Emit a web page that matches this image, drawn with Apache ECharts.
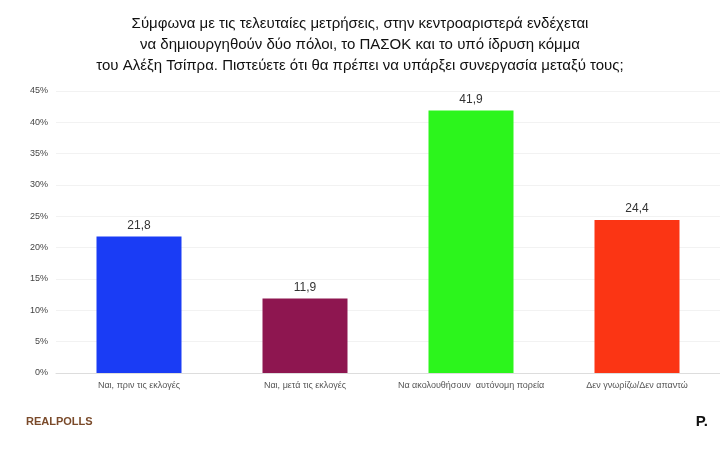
<!DOCTYPE html>
<html>
<head>
<meta charset="utf-8">
<script src="https://cdn.jsdelivr.net/npm/echarts@6/dist/echarts.min.js"></script>
<style>body{margin:0;background:#fff}#c{width:720px;height:454px}</style>
</head>
<body>
<div id="c"></div>
<script>
// κατηγορίες και τιμές
var categories = ['Ναι, πριν τις εκλογές', 'Ναι, μετά τις εκλογές', 'Να ακολουθήσουν  αυτόνομη πορεία', 'Δεν γνωρίζω/Δεν απαντώ'];
var values = [21.8, 11.9, 41.9, 24.4];
var colors = ['#1a3cf5', '#8e1650', '#2cf51c', '#fb3514'];

var chart = echarts.init(document.getElementById('c'));
chart.setOption({
  title: {
    text: 'Σύμφωνα με τις τελευταίες μετρήσεις, στην κεντροαριστερά ενδέχεται\nνα δημιουργηθούν δύο πόλοι, το ΠΑΣΟΚ και το υπό ίδρυση κόμμα\nτου Αλέξη Τσίπρα. Πιστεύετε ότι θα πρέπει να υπάρξει συνεργασία μεταξύ τους;',
    left: 'center', top: 8,
    textStyle: { fontSize: 15, fontWeight: 'normal', color: '#111', lineHeight: 21, fontFamily: 'Liberation Sans' }
  },
  grid: { left: 56, right: -8, top: 91, bottom: 81 },
  xAxis: {
    type: 'category', data: categories,
    axisLine: { lineStyle: { color: '#ddd' } },
    axisTick: { show: false },
    axisLabel: { fontSize: 9, color: '#555', margin: 8, interval: 0 }
  },
  yAxis: {
    type: 'value', min: 0, max: 45, interval: 5,
    axisLabel: { formatter: '{value}%', fontSize: 9, color: '#444' },
    splitLine: { lineStyle: { color: '#f2f2f2' } }
  },
  series: [{
    type: 'bar', barWidth: 85,
    data: values.map(function (v, i) { return { value: v, itemStyle: { color: colors[i] } }; }),
    label: {
      show: true, position: 'top', fontSize: 12, color: '#333',
      formatter: function (p) { return String(p.value).replace('.', ','); }
    }
  }],
  graphic: [
    { type: 'text', left: 26, top: 416, style: { text: 'REALPOLLS', fontSize: 11, fill: '#7a4a2a', fontWeight: 'bold' } },
    { type: 'text', right: 12, top: 414, style: { text: 'P.', fontSize: 15, fill: '#111', fontWeight: 'bold' } }
  ]
});
</script>
</body>
</html>
